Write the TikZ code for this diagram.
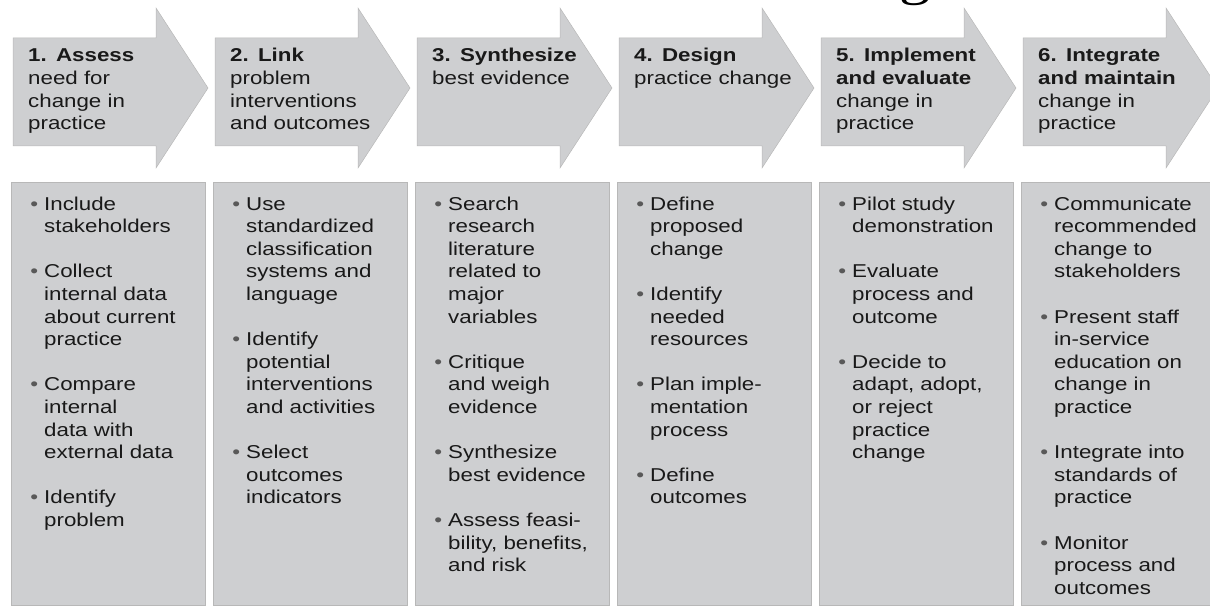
\documentclass[tikz,border=0pt]{standalone}
\usepackage{fontspec}
\usepackage{tikz}

\newfontfamily\stepfont{Liberation Sans}[FakeStretch=1.2]
\newfontfamily\titlefont{Liberation Serif}[FakeStretch=1.2]
\definecolor{stagegray}{RGB}{206,207,209}
\newcommand{\bul}{\leavevmode\llap{\textcolor{black!65}{\textbullet}\hspace{6pt}}}
\newcommand{\gap}{\\[22.6pt]}

\tikzset{
  stage/.style={fill=stagegray, draw=black!28, line width=0.5pt},
  stagebox/.style={stage, anchor=north west, inner sep=0pt,
    minimum width=194pt, minimum height=423pt},
  headtext/.style={anchor=base west, inner sep=0pt, align=left, text width=185pt,
    text=black!90, font=\stepfont\fontsize{18.6}{22.6}\selectfont},
  listtext/.style={headtext, text width=172pt}
}

\begin{document}
\begin{tikzpicture}[x=1pt, y=-1pt]
\useasboundingbox (0,0) rectangle (1210,607);

% top line, cut off by the page
\node[anchor=base west, inner sep=0pt, font=\titlefont\fontsize{52}{56}\selectfont] (title) at (899,-5) {g};

% stage arrows
\draw[stage, shift={(11,0)}] (2,38) -- (145,38) -- (145,8) -- (197,88) -- (145,168) -- (145,146) -- (2,146) -- cycle;
\draw[stage, shift={(213,0)}] (2,38) -- (145,38) -- (145,8) -- (197,88) -- (145,168) -- (145,146) -- (2,146) -- cycle;
\draw[stage, shift={(415,0)}] (2,38) -- (145,38) -- (145,8) -- (197,88) -- (145,168) -- (145,146) -- (2,146) -- cycle;
\draw[stage, shift={(617,0)}] (2,38) -- (145,38) -- (145,8) -- (197,88) -- (145,168) -- (145,146) -- (2,146) -- cycle;
\draw[stage, shift={(819,0)}] (2,38) -- (145,38) -- (145,8) -- (197,88) -- (145,168) -- (145,146) -- (2,146) -- cycle;
\draw[stage, shift={(1021,0)}] (2,38) -- (145,38) -- (145,8) -- (197,88) -- (145,168) -- (145,146) -- (2,146) -- cycle;

\node[headtext] (h1) at (28,62) {\textbf{1. Assess}\\need for\\change in\\practice};
\node[headtext] (h2) at (230,62) {\textbf{2. Link}\\problem\\interventions\\and outcomes};
\node[headtext] (h3) at (432,62) {\textbf{3. Synthesize}\\best evidence};
\node[headtext] (h4) at (634,62) {\textbf{4. Design}\\practice change};
\node[headtext] (h5) at (836,62) {\textbf{5. Implement}\\\textbf{and evaluate}\\change in\\practice};
\node[headtext] (h6) at (1038,62) {\textbf{6. Integrate}\\\textbf{and maintain}\\change in\\practice};

% activity boxes
\node[stagebox] (b1) at (11,182) {};
\node[stagebox] (b2) at (213,182) {};
\node[stagebox] (b3) at (415,182) {};
\node[stagebox] (b4) at (617,182) {};
\node[stagebox] (b5) at (819,182) {};
\node[stagebox] (b6) at (1021,182) {};

\node[listtext] (l1) at (44,210) {\bul Include\\stakeholders\gap
  \bul Collect\\internal data\\about current\\practice\gap
  \bul Compare\\internal\\data with\\external data\gap
  \bul Identify\\problem};
\node[listtext] (l2) at (246,210) {\bul Use\\standardized\\classification\\systems and\\language\gap
  \bul Identify\\potential\\interventions\\and activities\gap
  \bul Select\\outcomes\\indicators};
\node[listtext] (l3) at (448,210) {\bul Search\\research\\literature\\related to\\major\\variables\gap
  \bul Critique\\and weigh\\evidence\gap
  \bul Synthesize\\best evidence\gap
  \bul Assess feasi-\\bility, benefits,\\and risk};
\node[listtext] (l4) at (650,210) {\bul Define\\proposed\\change\gap
  \bul Identify\\needed\\resources\gap
  \bul Plan imple-\\mentation\\process\gap
  \bul Define\\outcomes};
\node[listtext] (l5) at (852,210) {\bul Pilot study\\demonstration\gap
  \bul Evaluate\\process and\\outcome\gap
  \bul Decide to\\adapt, adopt,\\or reject\\practice\\change};
\node[listtext] (l6) at (1054,210) {\bul Communicate\\recommended\\change to\\stakeholders\gap
  \bul Present staff\\in-service\\education on\\change in\\practice\gap
  \bul Integrate into\\standards of\\practice\gap
  \bul Monitor\\process and\\outcomes};
\end{tikzpicture}
\end{document}
